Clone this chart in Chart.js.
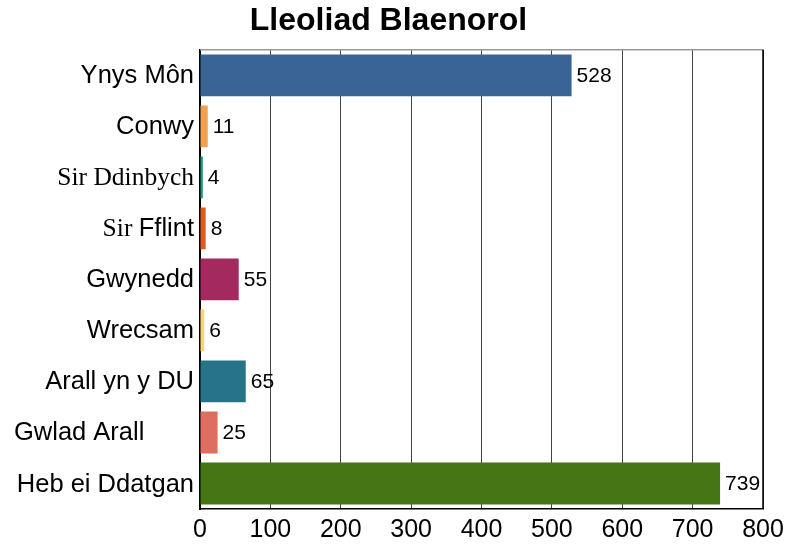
<!DOCTYPE html>
<html>
<head>
<meta charset="utf-8">
<script src="https://cdn.jsdelivr.net/npm/chart.js@4/dist/chart.umd.min.js"></script>
<style>
  html, body { margin: 0; padding: 0; background: #fff; }
  #wrap { width: 793px; height: 551px; }
</style>
</head>
<body>
<div id="wrap"><canvas id="chart"></canvas></div>
<script>
// ===== Data
const categories = ['Ynys Môn', 'Conwy', 'Sir Ddinbych', 'Sir Fflint', 'Gwynedd', 'Wrecsam', 'Arall yn y DU', 'Gwlad Arall', 'Heb ei Ddatgan'];
const values = [528, 11, 4, 8, 55, 6, 65, 25, 739];
const barColors = ['#3a6496', '#f0a050', '#17987a', '#e05a20', '#a3295e', '#ffd470', '#27748a', '#dd6e60', '#467514'];
const xTicks = [0, 100, 200, 300, 400, 500, 600, 700, 800];

const SANS = '"Liberation Sans", Arial, sans-serif';
const SERIF = '"Liberation Serif", "Times New Roman", serif';

// label pieces: some labels mix a serif word in, one sits left aligned
const labelParts = {
  'Sir Ddinbych': [['Sir Ddinbych', SERIF]],
  'Sir Fflint': [['Sir ', SERIF], ['Fflint', SANS]]
};
const leftLabels = ['Gwlad Arall'];

const labelsPlugin = {
  id: 'labels',
  afterDatasetsDraw(chart) {
    const { ctx, chartArea, scales } = chart;
    const y = scales.y;
    ctx.save();
    ctx.textBaseline = 'middle';
    ctx.fillStyle = '#000';

    // category labels
    categories.forEach((c, i) => {
      const py = y.getPixelForValue(i);
      const parts = labelParts[c] || [[c, SANS]];
      const fonts = parts.map(p => (p[1] === SERIF ? '25.5px ' : '25.5px ') + p[1]);
      let w = 0;
      parts.forEach((p, k) => { ctx.font = fonts[k]; w += ctx.measureText(p[0]).width; });
      let px = leftLabels.includes(c) ? 14 : chartArea.left - 6 - w;
      ctx.textAlign = 'left';
      parts.forEach((p, k) => {
        ctx.font = fonts[k];
        ctx.fillText(p[0], px, py + 1);
        px += ctx.measureText(p[0]).width;
      });
    });

    // value labels
    ctx.font = '21px ' + SANS;
    ctx.textAlign = 'left';
    const meta = chart.getDatasetMeta(0);
    meta.data.forEach((bar, i) => {
      ctx.fillText(String(values[i]), bar.x + 5, bar.y + 1);
    });

    // frame: light top, dark right
    ctx.strokeStyle = '#999';
    ctx.lineWidth = 1.5;
    ctx.beginPath();
    ctx.moveTo(chartArea.left, chartArea.top);
    ctx.lineTo(chartArea.right, chartArea.top);
    ctx.stroke();
    ctx.strokeStyle = '#000';
    ctx.beginPath();
    ctx.moveTo(chartArea.right, chartArea.top);
    ctx.lineTo(chartArea.right, chartArea.bottom);
    ctx.stroke();
    ctx.restore();
  }
};

new Chart(document.getElementById('chart'), {
  type: 'bar',
  data: {
    labels: categories,
    datasets: [{
      data: values,
      backgroundColor: barColors,
      borderWidth: 0,
      categoryPercentage: 1,
      barPercentage: 0.82
    }]
  },
  options: {
    indexAxis: 'y',
    responsive: true,
    maintainAspectRatio: false,
    animation: false,
    layout: { padding: { top: 0, right: 30, bottom: 0, left: 14 } },
    plugins: {
      legend: { display: false },
      tooltip: { enabled: false },
      title: {
        display: true,
        text: 'Lleoliad Blaenorol',
        color: '#000',
        font: { family: SANS, size: 32, weight: 'bold', lineHeight: 1.15 },
        padding: { top: 3, bottom: 10 }
      }
    },
    scales: {
      x: {
        min: 0,
        max: 800,
        afterBuildTicks: s => { s.ticks = xTicks.map(v => ({ value: v })); },
        grid: { color: '#444', lineWidth: 1, drawTicks: false },
        border: { color: '#000', width: 1.5 },
        ticks: { color: '#000', font: { family: SANS, size: 25, lineHeight: 1.2 }, padding: 6 },
        afterFit: s => { s.height = 42; }
      },
      y: {
        grid: { display: false, drawTicks: false },
        border: { color: '#000', width: 2 },
        ticks: { display: false },
        afterFit: s => { s.width = 186; }
      }
    }
  },
  plugins: [labelsPlugin]
});
</script>
</body>
</html>
